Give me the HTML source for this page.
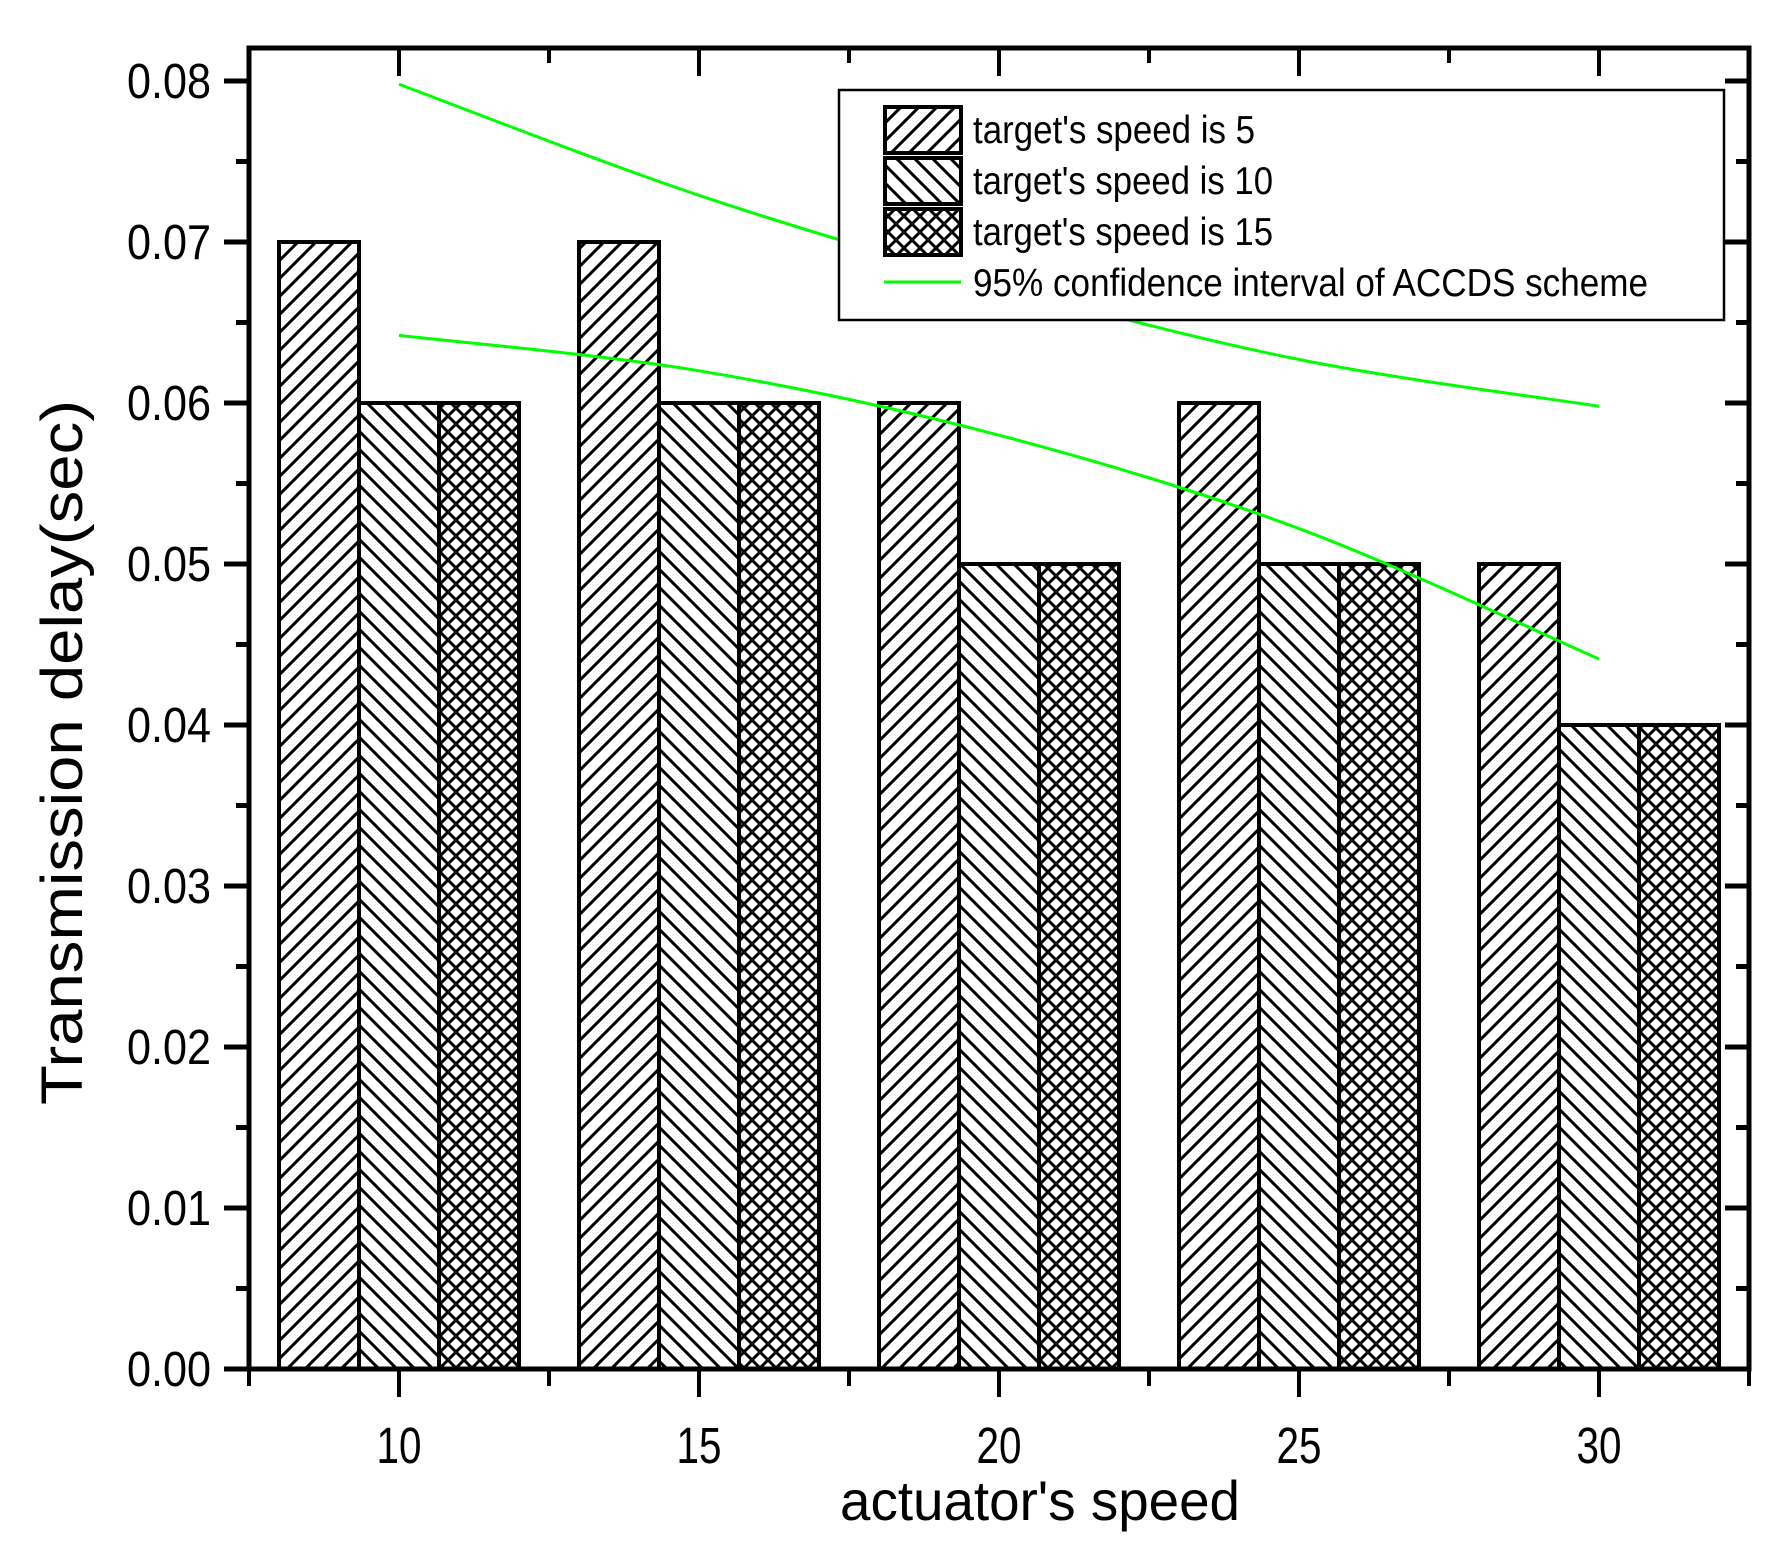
<!DOCTYPE html>
<html><head><meta charset="utf-8"><style>html,body{margin:0;padding:0;background:#fff}svg{display:block}text{font-family:"Liberation Sans",sans-serif;fill:#000}</style></head>
<body>
<svg id="chart" width="1790" height="1566" viewBox="0 0 1790 1566" xmlns="http://www.w3.org/2000/svg">
<defs>
<pattern id="pFwd" patternUnits="userSpaceOnUse" width="18" height="18"><path d="M-4,4 L4,-4 M0,18 L18,0 M14,22 L22,14" stroke="#000" stroke-width="3"/></pattern>
<pattern id="pBack" patternUnits="userSpaceOnUse" width="18" height="18"><path d="M-4,14 L4,22 M0,0 L18,18 M14,-4 L22,4" stroke="#000" stroke-width="3"/></pattern>
<pattern id="pCross" patternUnits="userSpaceOnUse" width="16" height="16"><path d="M-4,4 L4,-4 M0,16 L16,0 M12,20 L20,12 M-4,12 L4,20 M0,0 L16,16 M12,-4 L20,4" stroke="#000" stroke-width="3"/></pattern>
</defs>
<g id="bars"></g>
<g id="lines"></g>
<g id="axes"></g>
<g id="legend">
<rect x="839" y="90" width="885" height="230" fill="#fff" stroke="#000" stroke-width="2.5"/>
<rect x="885" y="107" width="76" height="46" fill="url(#pFwd)" stroke="#000" stroke-width="4"/>
<rect x="885" y="158" width="76" height="46" fill="url(#pBack)" stroke="#000" stroke-width="4"/>
<rect x="885" y="209" width="76" height="46" fill="url(#pCross)" stroke="#000" stroke-width="4"/>
<line x1="884" y1="282" x2="961" y2="282" stroke="#00ff00" stroke-width="3"/>
<text x="973" y="143" font-size="39" textLength="282" lengthAdjust="spacingAndGlyphs">target's speed is 5</text>
<text x="973" y="194" font-size="39" textLength="300" lengthAdjust="spacingAndGlyphs">target's speed is 10</text>
<text x="973" y="245" font-size="39" textLength="300" lengthAdjust="spacingAndGlyphs">target's speed is 15</text>
<text x="973" y="296" font-size="39" textLength="675" lengthAdjust="spacingAndGlyphs">95% confidence interval of ACCDS scheme</text>
</g>
<text x="840" y="1520" font-size="56" textLength="400" lengthAdjust="spacingAndGlyphs">actuator's speed</text>
<text transform="translate(82,1105) rotate(-90)" x="0" y="0" font-size="58" textLength="705" lengthAdjust="spacingAndGlyphs">Transmission delay(sec)</text>
</svg>
<script>
const categories = [10, 15, 20, 25, 30];
const speed5 = [0.07, 0.07, 0.06, 0.06, 0.05];
const speed10 = [0.06, 0.06, 0.05, 0.05, 0.04];
const speed15 = [0.06, 0.06, 0.05, 0.05, 0.04];
const ciUpper = [0.0798, 0.0729, 0.0673, 0.0627, 0.0598];
const ciLower = [0.0642, 0.0620, 0.0580, 0.0522, 0.0441];
const yTicks = ["0.00","0.01","0.02","0.03","0.04","0.05","0.06","0.07","0.08"];
const xTicks = ["10","15","20","25","30"];

const NS = "http://www.w3.org/2000/svg";
const L = 249, R = 1749, T = 48, B = 1369;
function xs(v){ return L + (v - 7.5) * 60; }
function ys(v){ return B - v * 16100; }
function mk(tag, attrs, parent){ const e = document.createElementNS(NS, tag); for (const k in attrs) e.setAttribute(k, attrs[k]); parent.appendChild(e); return e; }

const bars = document.getElementById('bars');
const series = [[speed5,'url(#pFwd)','5'],[speed10,'url(#pBack)','10'],[speed15,'url(#pCross)','15']];
const bw = 4/3;
series.forEach((s, si) => {
  categories.forEach((c, i) => {
    const x0 = xs(c - 2 + si * bw), x1 = xs(c - 2 + (si + 1) * bw);
    const r = mk('rect', {x: x0, y: ys(s[0][i]), width: x1 - x0, height: B - ys(s[0][i]), fill: s[1], stroke: '#000', 'stroke-width': 4}, bars);
    
    
  });
});

function smooth(arr){
  const p = categories.map((c, i) => [xs(c), ys(arr[i])]);
  let d = 'M' + p[0][0] + ',' + p[0][1];
  for (let i = 0; i < p.length - 1; i++){
    const p0 = p[Math.max(i-1,0)], p1 = p[i], p2 = p[i+1], p3 = p[Math.min(i+2,p.length-1)];
    const c1 = [p1[0] + (p2[0]-p0[0])/6, p1[1] + (p2[1]-p0[1])/6];
    const c2 = [p2[0] - (p3[0]-p1[0])/6, p2[1] - (p3[1]-p1[1])/6];
    d += ' C' + c1 + ' ' + c2 + ' ' + p2;
  }
  return d;
}
const lines = document.getElementById('lines');
const lu = mk('path', {d: smooth(ciUpper), fill: 'none', stroke: '#00ff00', 'stroke-width': 3}, lines);


const ll = mk('path', {d: smooth(ciLower), fill: 'none', stroke: '#00ff00', 'stroke-width': 3}, lines);



const ax = document.getElementById('axes');
const fr = mk('rect', {x: L, y: T, width: R - L, height: B - T, fill: 'none', stroke: '#000', 'stroke-width': 5}, ax);


yTicks.forEach((t, i) => {
  const v = i * 0.01, y = ys(v);
  mk('line', {x1: L - 25, y1: y, x2: L, y2: y, stroke: '#000', 'stroke-width': 5}, ax);
  mk('line', {x1: R - 24, y1: y, x2: R, y2: y, stroke: '#000', 'stroke-width': 5}, ax);
  if (i < yTicks.length - 1){
    const ym = ys(v + 0.005);
    mk('line', {x1: L - 13, y1: ym, x2: L, y2: ym, stroke: '#000', 'stroke-width': 5}, ax);
    mk('line', {x1: R - 13, y1: ym, x2: R, y2: ym, stroke: '#000', 'stroke-width': 5}, ax);
  }
  const tx = mk('text', {x: 211, y: y + 17, 'font-size': 49, 'text-anchor': 'end', textLength: 84, lengthAdjust: 'spacingAndGlyphs'}, ax);
  tx.textContent = t;
  
  
});
xTicks.forEach((t, i) => {
  const x = xs(categories[i]);
  mk('line', {x1: x, y1: B, x2: x, y2: B + 28, stroke: '#000', 'stroke-width': 4}, ax);
  mk('line', {x1: x, y1: T, x2: x, y2: T + 28, stroke: '#000', 'stroke-width': 4}, ax);
  const tx = mk('text', {x: x, y: 1463, 'font-size': 51, 'text-anchor': 'middle', textLength: 45, lengthAdjust: 'spacingAndGlyphs'}, ax);
  tx.textContent = t;
  
  
});
for (let v = 7.5; v <= 32.5; v += 5){
  const x = xs(v);
  mk('line', {x1: x, y1: B, x2: x, y2: B + 17, stroke: '#000', 'stroke-width': 4}, ax);
  mk('line', {x1: x, y1: T, x2: x, y2: T + 15, stroke: '#000', 'stroke-width': 4}, ax);
}
</script>
</body></html>
